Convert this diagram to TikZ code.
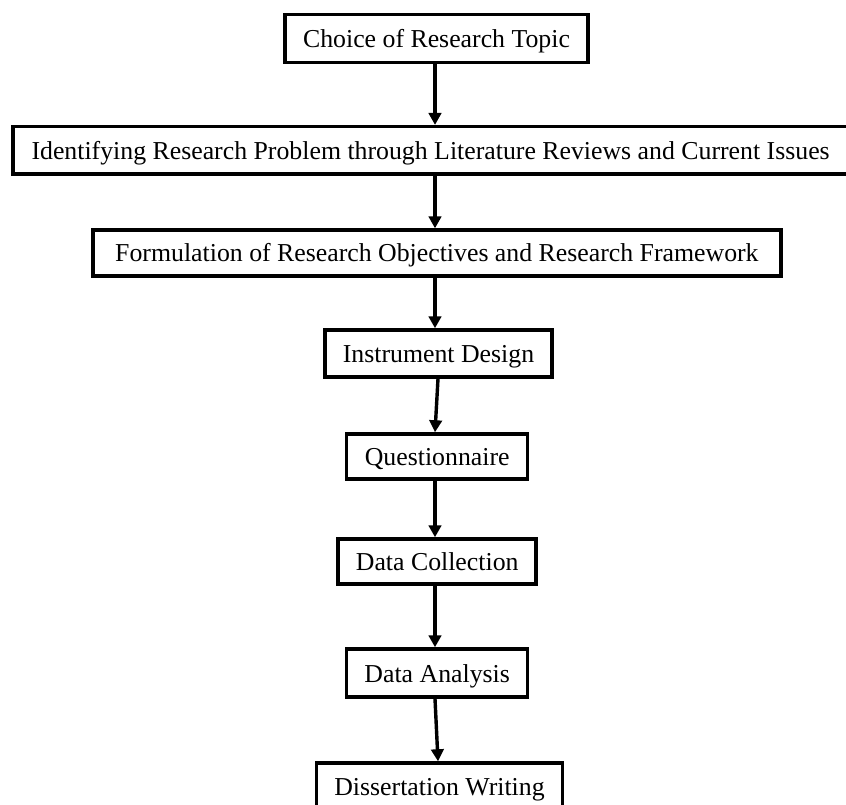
\documentclass[tikz,border=0pt]{standalone}
\usepackage{fontspec}
\setmainfont{Liberation Serif}
\usetikzlibrary{arrows.meta}
\begin{document}
\begin{tikzpicture}[x=1pt,y=-1pt,
  stepbox/.style={draw=black, line width=3.5pt, inner sep=0pt, align=center,
    text height=18pt, text depth=0pt,
    font=\fontsize{25.8}{30}\selectfont},
  arr/.style={line width=3.4pt, -{Triangle[length=12pt,width=12.5pt]}}]
\useasboundingbox (0,0) rectangle (846,804);
\node[stepbox, minimum width=303pt, minimum height=47.6pt] (n1) at (436.5,38.5) {Choice of Research Topic};
\node[stepbox, minimum width=835pt, minimum height=47.3pt] (n2) at (430.6,150.3) {Identifying Research Problem through Literature Reviews and Current Issues};
\node[stepbox, minimum width=688pt, minimum height=45.7pt] (n3) at (436.9,252.9) {Formulation of Research Objectives and Research Framework};
\node[stepbox, minimum width=227pt, minimum height=47pt] (n4) at (438.5,353.5) {Instrument Design};
\node[stepbox, minimum width=181pt, minimum height=45pt] (n5) at (437.2,456.5) {Questionnaire};
\node[stepbox, minimum width=198pt, minimum height=45pt] (n6) at (437.2,561.5) {Data Collection};
\node[stepbox, minimum width=181pt, minimum height=48pt] (n7) at (437.2,673) {Data Analysis};
\node[stepbox, minimum width=245.6pt, minimum height=46pt] (n8) at (439.5,786) {Dissertation Writing};
\coordinate (ax) at (435,0);
\coordinate (bx) at (438,0);
\draw[arr] (n1.south -| ax) -- (n2.north -| ax);
\draw[arr] (n2.south -| ax) -- (n3.north -| ax);
\draw[arr] (n3.south -| ax) -- (n4.north -| ax);
\draw[arr] (n4.south -| bx) -- (n5.north -| ax);
\draw[arr] (n5.south -| ax) -- (n6.north -| ax);
\draw[arr] (n6.south -| ax) -- (n7.north -| ax);
\draw[arr] (n7.south -| ax) -- (n8.north -| bx);
\end{tikzpicture}
\end{document}
